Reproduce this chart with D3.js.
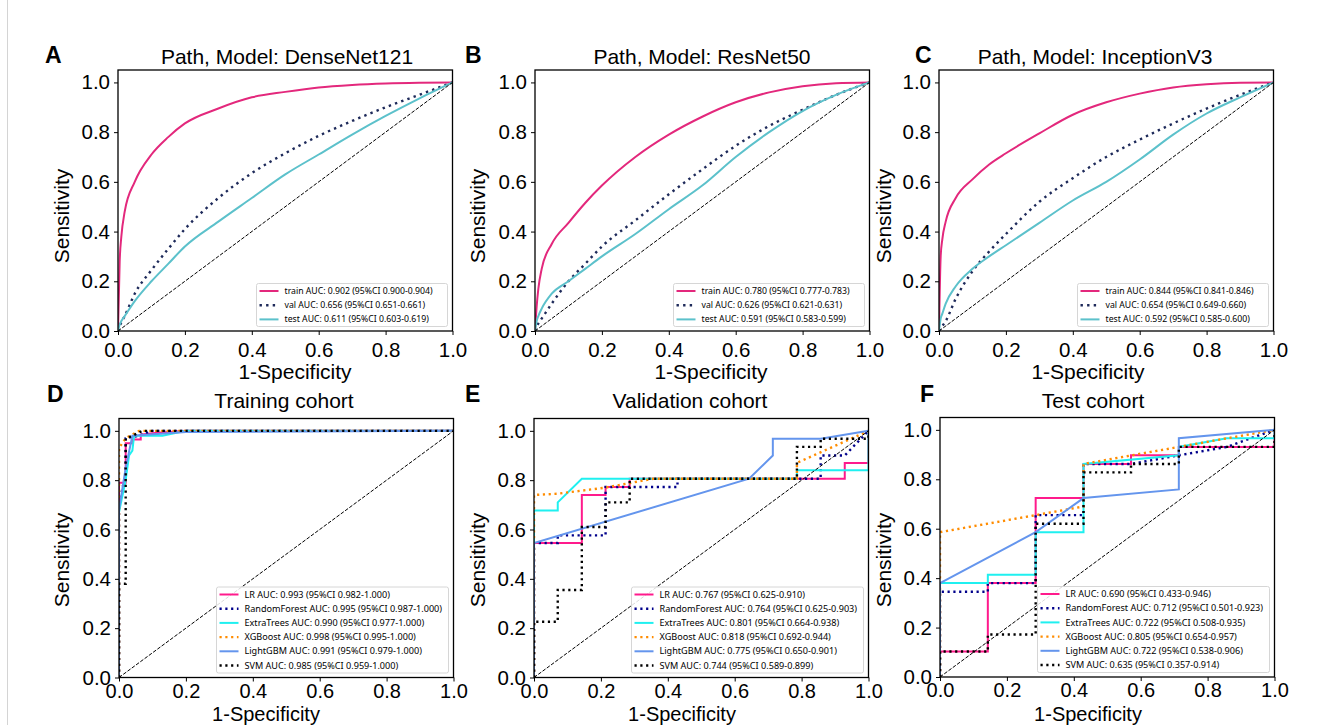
<!DOCTYPE html>
<html lang="en">
<head>
<meta charset="UTF-8">
<title>ROC curves – deep learning and machine learning models</title>
<script src="https://d3js.org/d3.v7.min.js"></script>
<style>
  body { margin: 0; background: #fff; }
  svg { display: block; font-family: "Liberation Sans", Arial, sans-serif; }
  .tick text { font-size: 20.5px; fill: #000; }
  .tick line { stroke: #000; stroke-width: 1; }
  .legend text { font-family: "Noto Sans", sans-serif; fill: #000; }
</style>
</head>
<body>
<svg width="1329" height="725"></svg>
<script>
// ---- top row: smooth ROC curves on a shared FPR grid ----
const fprGrid = [0, 0.005, 0.01, 0.02, 0.05, 0.1, 0.15, 0.2, 0.3, 0.4, 0.5, 0.6, 0.7, 0.8, 0.9, 1];

const denseTrain = [0, 0.28, 0.38, 0.48, 0.60, 0.71, 0.78, 0.835, 0.895, 0.94, 0.962, 0.98, 0.99, 0.996, 0.999, 1];
const denseVal   = [0, 0.02, 0.035, 0.06, 0.15, 0.245, 0.33, 0.41, 0.535, 0.635, 0.715, 0.785, 0.845, 0.90, 0.95, 1];
const denseTest  = [0, 0.025, 0.04, 0.06, 0.12, 0.20, 0.27, 0.34, 0.44, 0.535, 0.63, 0.71, 0.79, 0.865, 0.935, 1];

const resTrain = [0, 0.10, 0.17, 0.25, 0.35, 0.435, 0.515, 0.585, 0.70, 0.79, 0.862, 0.92, 0.96, 0.985, 0.997, 1];
const resVal   = [0, 0.02, 0.03, 0.05, 0.11, 0.20, 0.27, 0.34, 0.445, 0.55, 0.65, 0.745, 0.825, 0.89, 0.95, 1];
const resTest  = [0, 0.04, 0.06, 0.09, 0.15, 0.20, 0.25, 0.30, 0.39, 0.49, 0.585, 0.70, 0.80, 0.885, 0.95, 1];

const incTrain = [0, 0.30, 0.37, 0.44, 0.535, 0.61, 0.67, 0.715, 0.795, 0.87, 0.92, 0.955, 0.98, 0.993, 0.999, 1];
const incVal   = [0, 0.01, 0.02, 0.04, 0.13, 0.24, 0.32, 0.39, 0.52, 0.615, 0.70, 0.77, 0.835, 0.895, 0.95, 1];
const incTest  = [0, 0.05, 0.07, 0.11, 0.18, 0.25, 0.30, 0.345, 0.435, 0.525, 0.60, 0.69, 0.79, 0.875, 0.94, 1];

const topSeries = ["train", "val", "test"];
const denseLegend = ["0.902 (95%CI 0.900-0.904)", "0.656 (95%CI 0.651-0.661)", "0.611 (95%CI 0.603-0.619)"];
const resLegend   = ["0.780 (95%CI 0.777-0.783)", "0.626 (95%CI 0.621-0.631)", "0.591 (95%CI 0.583-0.599)"];
const incLegend   = ["0.844 (95%CI 0.841-0.846)", "0.654 (95%CI 0.649-0.660)", "0.592 (95%CI 0.585-0.600)"];

// ---- bottom row: step ROC curves, [fpr, tpr] ----
const models = ["LR", "RandomForest", "ExtraTrees", "XGBoost", "LightGBM", "SVM"];

const trainLR   = [[0,0],[0,0.79],[0.02,0.79],[0.02,0.95],[0.04,0.95],[0.04,0.965],[0.065,0.965],[0.065,0.985],[0.1,0.99],[0.2,1],[1,1]];
const trainRF   = [[0,0],[0,0.7],[0.02,0.83],[0.02,0.97],[0.06,0.98],[0.1,1],[1,1]];
const trainET   = [[0,0],[0,0.67],[0.02,0.8],[0.03,0.9],[0.04,0.92],[0.045,0.98],[0.13,0.98],[0.2,1],[1,1]];
const trainXGB  = [[0,0],[0,0.93],[0.01,0.95],[0.02,0.97],[0.06,1],[1,1]];
const trainLGBM = [[0,0],[0,0.68],[0.02,0.85],[0.04,0.98],[0.2,0.995],[1,1]];
const trainSVM  = [[0,0],[0,0.38],[0.02,0.38],[0.02,0.97],[0.04,0.98],[0.07,1],[1,1]];
const trainAUC  = ["0.993 (95%CI 0.982-1.000)", "0.995 (95%CI 0.987-1.000)", "0.990 (95%CI 0.977-1.000)",
                   "0.998 (95%CI 0.995-1.000)", "0.991 (95%CI 0.979-1.000)", "0.985 (95%CI 0.959-1.000)"];

const valLR   = [[0,0],[0,0.545],[0.143,0.545],[0.143,0.74],[0.214,0.74],[0.214,0.772],[0.286,0.772],[0.286,0.806],[0.929,0.806],[0.929,0.87],[1,0.87],[1,1]];
const valRF   = [[0,0],[0,0.545],[0.071,0.545],[0.071,0.576],[0.214,0.576],[0.214,0.772],[0.429,0.772],[0.429,0.806],[0.857,0.806],[0.857,0.9],[0.929,0.9],[1,1]];
const valET   = [[0,0],[0,0.677],[0.071,0.677],[0.071,0.71],[0.143,0.806],[0.786,0.806],[0.786,0.84],[1,0.84],[1,1]];
const valXGB  = [[0,0],[0,0.74],[0.071,0.745],[0.214,0.77],[0.357,0.806],[0.786,0.806],[0.786,0.87],[1,1]];
const valLGBM = [[0,0],[0,0.545],[0.643,0.806],[0.714,0.9],[0.714,0.968],[0.857,0.968],[1,1]];
const valSVM  = [[0,0],[0,0.226],[0.071,0.226],[0.071,0.355],[0.143,0.355],[0.143,0.61],[0.214,0.61],[0.214,0.71],[0.286,0.71],[0.286,0.806],[0.786,0.806],[0.786,0.935],[0.857,0.935],[0.857,0.968],[1,0.968],[1,1]];
const valAUC  = ["0.767 (95%CI 0.625-0.910)", "0.764 (95%CI 0.625-0.903)", "0.801 (95%CI 0.664-0.938)",
                 "0.818 (95%CI 0.692-0.944)", "0.775 (95%CI 0.650-0.901)", "0.744 (95%CI 0.589-0.899)"];

const testLR   = [[0,0],[0,0.103],[0.143,0.103],[0.143,0.38],[0.286,0.38],[0.286,0.724],[0.429,0.724],[0.429,0.862],[0.571,0.862],[0.571,0.897],[0.714,0.897],[0.714,0.931],[1,0.931],[1,1]];
const testRF   = [[0,0],[0,0.345],[0.143,0.345],[0.143,0.38],[0.286,0.38],[0.286,0.655],[0.429,0.655],[0.429,0.862],[0.571,0.862],[0.714,0.897],[0.857,0.931],[0.929,0.966],[1,1]];
const testET   = [[0,0],[0,0.38],[0.143,0.38],[0.143,0.414],[0.286,0.414],[0.286,0.586],[0.429,0.586],[0.429,0.862],[0.714,0.897],[0.714,0.931],[0.857,0.966],[1,0.966],[1,1]];
const testXGB  = [[0,0],[0,0.586],[0.286,0.655],[0.429,0.69],[0.429,0.862],[0.714,0.931],[1,1]];
const testLGBM = [[0,0],[0,0.38],[0.286,0.586],[0.429,0.724],[0.714,0.759],[0.714,0.966],[1,1]];
const testSVM  = [[0,0],[0,0.103],[0.143,0.103],[0.143,0.172],[0.286,0.172],[0.286,0.62],[0.429,0.62],[0.429,0.828],[0.571,0.828],[0.571,0.862],[0.714,0.862],[0.714,0.931],[1,0.931],[1,1]];
const testAUC  = ["0.690 (95%CI 0.433-0.946)", "0.712 (95%CI 0.501-0.923)", "0.722 (95%CI 0.508-0.935)",
                  "0.805 (95%CI 0.654-0.957)", "0.722 (95%CI 0.538-0.906)", "0.635 (95%CI 0.357-0.914)"];

const ticks = [0, 0.2, 0.4, 0.6, 0.8, 1.0];

// ---- styles ----
const topStyle = [
  { color: "#e3287c", dash: null },
  { color: "#1e2a5a", dash: "2.4,4.2" },
  { color: "#5cc1cb", dash: null }
];
const modelStyle = [
  { color: "#ff1a8c", dash: null },
  { color: "#00008b", dash: "2.2,3.6" },
  { color: "#1ff0f0", dash: null },
  { color: "#ff8c00", dash: "2.2,3.6" },
  { color: "#6495ed", dash: null },
  { color: "#000000", dash: "2.2,3.6" }
];

const svg = d3.select("svg");

// thin frame line on the left of the figure
svg.append("line")
  .attr("x1", 7.5).attr("x2", 7.5).attr("y1", 0).attr("y2", 725)
  .attr("stroke", "#d4d4d4").attr("stroke-width", 1);

const W = 334.5;
const panels = [
  { letter: "A", left: 118, top: 70, bottom: 331, title: "Path, Model: DenseNet121", lx: 45, tx: 287, xl: 295, yl: 62, row: 0,
    curves: [denseTrain, denseVal, denseTest].map(t => t.map((v, i) => [fprGrid[i], v])),
    labels: topSeries.map((s, i) => `${s} AUC: ${denseLegend[i]}`), styles: topStyle },
  { letter: "B", left: 535, top: 70, bottom: 331, title: "Path, Model: ResNet50", lx: 465, tx: 702, xl: 711, yl: 478, row: 0,
    curves: [resTrain, resVal, resTest].map(t => t.map((v, i) => [fprGrid[i], v])),
    labels: topSeries.map((s, i) => `${s} AUC: ${resLegend[i]}`), styles: topStyle },
  { letter: "C", left: 939, top: 70, bottom: 331, title: "Path, Model: InceptionV3", lx: 915, tx: 1095, xl: 1088, yl: 884, row: 0,
    curves: [incTrain, incVal, incTest].map(t => t.map((v, i) => [fprGrid[i], v])),
    labels: topSeries.map((s, i) => `${s} AUC: ${incLegend[i]}`), styles: topStyle },
  { letter: "D", left: 119, top: 418.5, bottom: 677.5, title: "Training cohort", lx: 47, tx: 284, xl: 266, yl: 62, row: 1,
    curves: [trainLR, trainRF, trainET, trainXGB, trainLGBM, trainSVM],
    labels: models.map((m, i) => `${m} AUC: ${trainAUC[i]}`), styles: modelStyle },
  { letter: "E", left: 534, top: 418.5, bottom: 677.5, title: "Validation cohort", lx: 465, tx: 690, xl: 682, yl: 478, row: 1,
    curves: [valLR, valRF, valET, valXGB, valLGBM, valSVM],
    labels: models.map((m, i) => `${m} AUC: ${valAUC[i]}`), styles: modelStyle },
  { letter: "F", left: 940, top: 417.5, bottom: 677, title: "Test cohort", lx: 920, tx: 1093, xl: 1088, yl: 884, row: 1,
    curves: [testLR, testRF, testET, testXGB, testLGBM, testSVM],
    labels: models.map((m, i) => `${m} AUC: ${testAUC[i]}`), styles: modelStyle }
];

const rowText = [
  { letterY: 63, titleY: 64, xlabY: 379, xlabSize: 21, ylabY: 216, xPad: 7, tickSize: 20.5, legendFont: 8.7, lw: 191, lh: 43 },
  { letterY: 402, titleY: 408, xlabY: 721, xlabSize: 20, ylabY: 560, xPad: 2, tickSize: 20, legendFont: 9.1, lw: 232, lh: 86 }
];

panels.forEach((p, pi) => {
  const rt = rowText[p.row];
  const x = d3.scaleLinear().domain([0, 1]).range([p.left, p.left + W]);
  const y = d3.scaleLinear().domain([0, 1.05]).range([p.bottom, p.top]);

  const clipId = "clip" + pi;
  svg.append("clipPath").attr("id", clipId)
    .append("rect")
    .attr("x", p.left).attr("y", p.top)
    .attr("width", W).attr("height", p.bottom - p.top);

  const g = svg.append("g");
  const plot = g.append("g").attr("clip-path", `url(#${clipId})`);

  const line = d3.line()
    .x(d => x(d[0]))
    .y(d => y(d[1]))
    .curve(p.row === 0 ? d3.curveMonotoneX : d3.curveLinear);

  p.curves.forEach((c, i) => {
    const st = p.styles[i];
    plot.append("path")
      .datum(c)
      .attr("fill", "none")
      .attr("stroke", st.color)
      .attr("stroke-width", st.dash ? 2.4 : 2)
      .attr("stroke-dasharray", st.dash)
      .attr("d", line);
  });

  // chance diagonal
  plot.append("path")
    .datum([[0, 0], [1, 1]])
    .attr("fill", "none")
    .attr("stroke", "#000")
    .attr("stroke-width", 1)
    .attr("stroke-dasharray", "3.7,1.6")
    .attr("d", d3.line().x(d => x(d[0])).y(d => y(d[1])));

  // axes
  g.append("g")
    .attr("transform", `translate(0,${p.bottom})`)
    .call(d3.axisBottom(x).tickValues(ticks).tickFormat(d3.format(".1f")).tickSize(4).tickPadding(rt.xPad))
    .call(a => a.select(".domain").remove())
    .call(a => a.selectAll(".tick text").style("font-size", rt.tickSize + "px"));
  g.append("g")
    .attr("transform", `translate(${p.left},0)`)
    .call(d3.axisLeft(y).tickValues(ticks).tickFormat(d3.format(".1f")).tickSize(4).tickPadding(4))
    .call(a => a.select(".domain").remove());

  g.append("rect")
    .attr("x", p.left).attr("y", p.top)
    .attr("width", W).attr("height", p.bottom - p.top)
    .attr("fill", "none").attr("stroke", "#000").attr("stroke-width", 1.3);

  // legend
  const lgx = p.left + W - 5 - rt.lw;
  const lgy = p.bottom - 4.5 - rt.lh;
  const lg = g.append("g").attr("class", "legend");
  lg.append("rect")
    .attr("x", lgx).attr("y", lgy).attr("width", rt.lw).attr("height", rt.lh)
    .attr("rx", 2)
    .attr("fill", "#fff").attr("fill-opacity", 0.85)
    .attr("stroke", "#d6d6d6").attr("stroke-width", 1);
  p.labels.forEach((t, i) => {
    const st = p.styles[i];
    const yy = lgy + 7.5 + i * 14.2;
    lg.append("line")
      .attr("x1", lgx + 3).attr("x2", lgx + 22)
      .attr("y1", yy).attr("y2", yy)
      .attr("stroke", st.color)
      .attr("stroke-width", st.dash ? 2.4 : 2)
      .attr("stroke-dasharray", st.dash);
    lg.append("text")
      .attr("x", lgx + 28).attr("y", yy)
      .attr("dy", "0.35em")
      .attr("font-size", rt.legendFont)
      .text(t);
  });

  // titles and labels
  svg.append("text")
    .attr("x", p.lx).attr("y", rt.letterY)
    .attr("font-size", 23).attr("font-weight", "bold")
    .text(p.letter);
  svg.append("text")
    .attr("x", p.tx).attr("y", rt.titleY)
    .attr("text-anchor", "middle").attr("font-size", 21)
    .text(p.title);
  svg.append("text")
    .attr("x", p.xl).attr("y", rt.xlabY)
    .attr("text-anchor", "middle").attr("font-size", rt.xlabSize)
    .text("1-Specificity");
  svg.append("text")
    .attr("transform", `translate(${p.yl},${rt.ylabY}) rotate(-90)`)
    .attr("text-anchor", "middle").attr("dy", "0.35em").attr("font-size", 21)
    .text("Sensitivity");
});
</script>
</body>
</html>
